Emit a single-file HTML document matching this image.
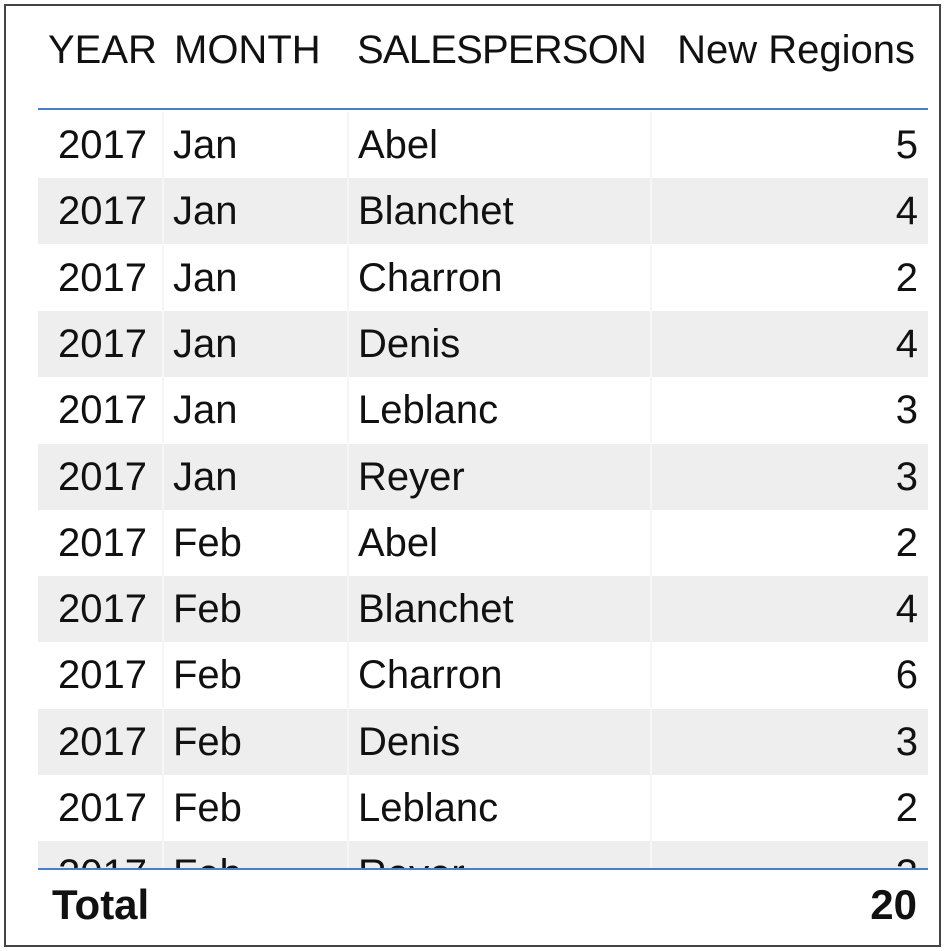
<!DOCTYPE html>
<html><head><meta charset="utf-8">
<style>
html,body{margin:0;padding:0;background:#fff;}
body{width:945px;height:951px;position:relative;overflow:hidden;font-family:"Liberation Sans",sans-serif;color:#111;}
#frame{position:absolute;left:4px;top:4px;width:933px;height:939px;border:2px solid #444;}
.t{position:absolute;font-size:40px;line-height:66px;white-space:nowrap;}
.r{text-align:right;}
.row{position:absolute;left:38px;width:890px;height:66px;}
.stripe{background:#eeeeee;}
.sep{position:absolute;top:0;width:2px;height:100%;background:#f6f6f6;}
#clip{position:absolute;left:0;top:112px;width:945px;height:757px;overflow:hidden;}
</style></head>
<body>
<div id="frame"></div>
<div class="t" style="left:48px;top:17px">YEAR</div>
<div class="t" style="left:174px;top:17px">MONTH</div>
<div class="t" style="left:357px;top:17px;letter-spacing:-0.8px">SALESPERSON</div>
<div class="t r" style="right:30px;top:17px;">New Regions</div>
<div style="position:absolute;left:38px;top:108px;width:890px;height:2px;background:#4a7fc8"></div>
<div id="clip"></div>
<div style="position:absolute;left:38px;top:868px;width:890px;height:2px;background:#4a7fc8"></div>
<div class="t" style="left:52px;top:872px;font-weight:bold;font-size:42px">Total</div>
<div class="t r" style="right:28px;top:872px;font-weight:bold;font-size:42px">20</div>
<script>
const years=[2017,2017,2017,2017,2017,2017,2017,2017,2017,2017,2017,2017];
const months=["Jan","Jan","Jan","Jan","Jan","Jan","Feb","Feb","Feb","Feb","Feb","Feb"];
const people=["Abel","Blanchet","Charron","Denis","Leblanc","Reyer","Abel","Blanchet","Charron","Denis","Leblanc","Reyer"];
const regions=[5,4,2,4,3,3,2,4,6,3,2,3];
const clip=document.getElementById('clip');
const RH=66.3;
years.forEach((y,i)=>{
  const row=document.createElement('div');
  row.className='row'+(i%2===1?' stripe':'');
  row.style.top=(i*RH)+'px';
  
  
  [124,309,612].forEach(x=>{const s=document.createElement('div');s.className='sep';s.style.left=x+'px';
    
    
    row.appendChild(s);});
  const cells=[[String(y),20,false],[months[i],135,false],[people[i],320,false],[String(regions[i]),null,true]];
  cells.forEach(([txt,x,right])=>{
    const c=document.createElement('div');c.className='t'+(right?' r':'');
    c.style.top='0px';
    if(right)c.style.right='10px';else c.style.left=x+'px';
    c.textContent=txt;
    
    
    row.appendChild(c);
  });
  clip.appendChild(row);
});
</script>
</body></html>
